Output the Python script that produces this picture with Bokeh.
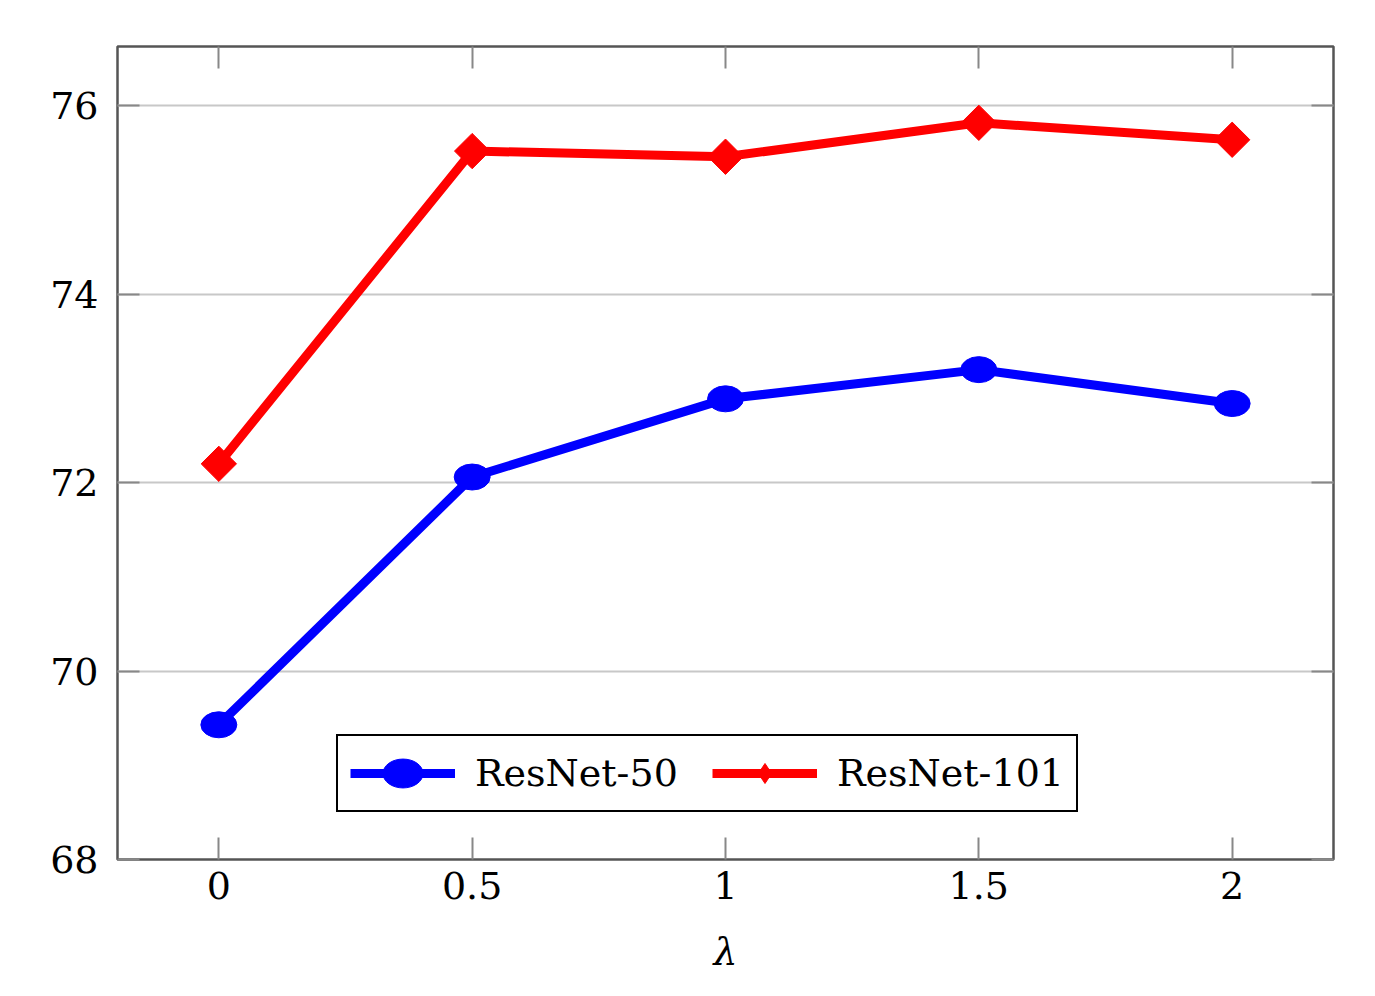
import numpy as np
from bokeh.plotting import figure
from bokeh.models import LinearAxis, Legend, LegendItem, Range1d, FixedTicker
from bokeh.embed import file_html
from bokeh.resources import INLINE

lam = [0, 0.5, 1, 1.5, 2]
resnet50 = [69.43, 72.06, 72.89, 73.20, 72.84]
resnet101 = [72.20, 75.52, 75.46, 75.82, 75.64]
x_ticks = [0, 0.5, 1, 1.5, 2]
x_tick_labels = ["0", "0.5", "1", "1.5", "2"]
y_ticks = [68, 70, 72, 74, 76]
series_names = ["ResNet-50", "ResNet-101"]

FONT = "DejaVu Serif"

p = figure(width=1358, height=988, x_range=Range1d(-0.2, 2.2), y_range=Range1d(68, 76.63),
           output_backend="svg", toolbar_location=None,
           min_border_left=117, min_border_right=25, min_border_top=46, min_border_bottom=129,
           x_axis_label="λ")

p.outline_line_color = "#555555"
p.outline_line_width = 2.5
p.background_fill_color = "white"

p.xgrid.visible = False
p.ygrid.grid_line_color = "#c8c8c8"
p.ygrid.grid_line_width = 2
p.ygrid.ticker = FixedTicker(ticks=y_ticks)

for ax in p.xaxis:
    ax.ticker = FixedTicker(ticks=x_ticks)
    ax.major_label_overrides = {t: l for t, l in zip(x_ticks, x_tick_labels)}
    ax.major_label_standoff = 12
    ax.axis_label_standoff = 28
    ax.axis_label_text_font = FONT
    ax.axis_label_text_font_style = "italic"
    ax.axis_label_text_font_size = "38px"
    ax.axis_label_text_color = "black"
for ax in p.yaxis:
    ax.ticker = FixedTicker(ticks=y_ticks)
    ax.major_label_standoff = 19
for ax in list(p.xaxis) + list(p.yaxis):
    ax.axis_line_color = None
    ax.major_tick_in = 22
    ax.major_tick_out = 0
    ax.major_tick_line_color = "#888888"
    ax.major_tick_line_width = 2
    ax.minor_tick_line_color = None
    ax.major_label_text_font = FONT
    ax.major_label_text_font_size = "38px"
    ax.major_label_text_color = "black"

top = LinearAxis(ticker=FixedTicker(ticks=x_ticks))
right = LinearAxis(ticker=FixedTicker(ticks=y_ticks))
for ax, ticks in ((top, x_ticks), (right, y_ticks)):
    ax.axis_line_color = None
    ax.major_tick_in = 22
    ax.major_tick_out = 0
    ax.major_tick_line_color = "#888888"
    ax.major_tick_line_width = 2
    ax.minor_tick_line_color = None
    ax.major_label_text_font_size = "1px"
    ax.major_label_standoff = 0
    ax.major_label_overrides = {t: "" for t in ticks}
p.add_layout(top, "above")
p.add_layout(right, "right")

l1 = p.line(lam, resnet50, line_color="blue", line_width=9, line_join="round")
m1 = p.ellipse(lam, resnet50, width=36, height=26, width_units="screen", height_units="screen",
               fill_color="blue", line_color="blue")
l2 = p.line(lam, resnet101, line_color="red", line_width=9, line_join="round")
m2 = p.scatter(lam, resnet101, marker="square", angle=np.pi / 4, size=25,
               fill_color="red", line_color="red")
# legend sample marker (diamond shape; legend samples ignore marker angle)
m2_key = p.scatter([-10], [0], marker="diamond", size=25, fill_color="red", line_color="red")

legend = Legend(items=[LegendItem(label=series_names[0], renderers=[l1, m1]),
                       LegendItem(label=series_names[1], renderers=[l2, m2_key])],
                location=(219, 47), orientation="horizontal",
                label_text_font=FONT, label_text_font_size="38px", label_text_color="black",
                glyph_width=105, glyph_height=50, label_standoff=20, spacing=22,
                label_width=215, padding=12, margin=0,
                border_line_color="black", border_line_alpha=1.0, border_line_width=2)
p.add_layout(legend, "center")

open("out.html", "w").write(file_html(p, INLINE))
